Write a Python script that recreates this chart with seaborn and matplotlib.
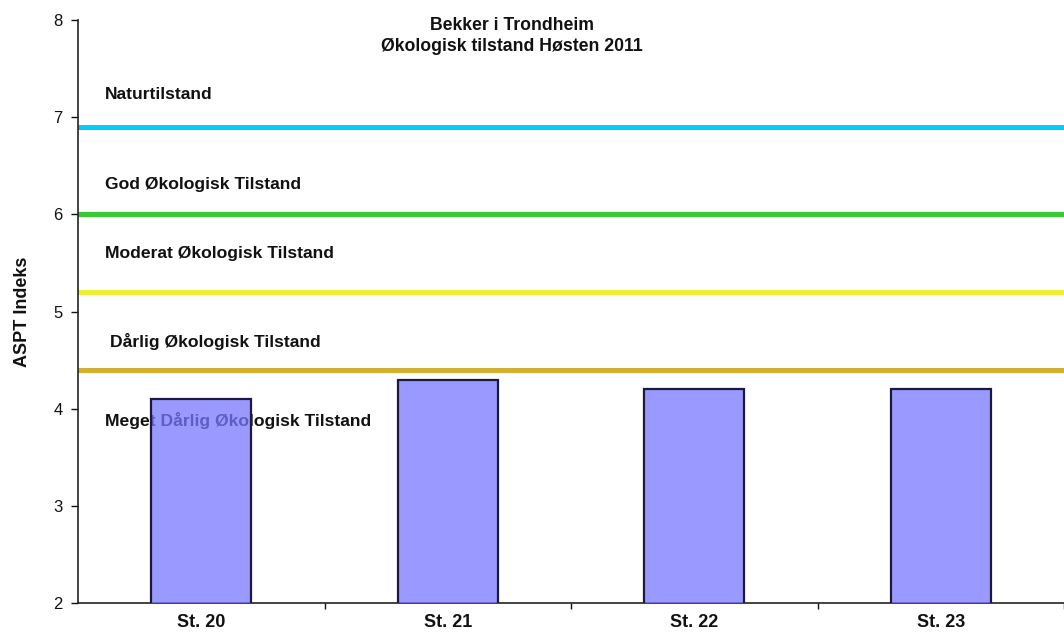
import matplotlib
matplotlib.use("Agg")
import matplotlib.pyplot as plt
import seaborn as sns
import pandas as pd
import numpy as np

stations = ["St. 20", "St. 21", "St. 22", "St. 23"]
aspt = [4.1, 4.3, 4.2, 4.2]

class_limits = [6.9, 6.0, 5.2, 4.4]
limit_colors = ["#00CCFF", "#33CC33", "#EEEE33", "#D4B030"]

class_labels = ["Naturtilstand", "God Økologisk Tilstand", "Moderat Økologisk Tilstand",
                "Dårlig Økologisk Tilstand", "Meget Dårlig Økologisk Tilstand"]
class_label_y = [7.23, 6.31, 5.60, 4.69, 3.88]
class_label_x = [-0.39, -0.39, -0.39, -0.37, -0.39]

title = "Bekker i Trondheim\nØkologisk tilstand Høsten 2011"
ylabel = "ASPT Indeks"
yticks = [2, 3, 4, 5, 6, 7, 8]

sns.set_style("white")
plt.rcParams['font.family'] = ['Liberation Sans', 'DejaVu Sans']
plt.rcParams['text.color'] = '#111111'
plt.rcParams['axes.labelcolor'] = '#111111'
plt.rcParams['xtick.color'] = '#111111'
plt.rcParams['ytick.color'] = '#111111'

fig = plt.figure(figsize=(10.64, 6.34), dpi=100)
ax = fig.add_axes([78/1064, 1-603/634, 1-78/1064, (603-20)/634])

df = pd.DataFrame({"station": stations, "aspt": aspt})
sns.barplot(data=df, x="station", y="aspt", ax=ax, color="#7777FF", width=0.405,
            edgecolor="#1A1A40", linewidth=1.6, saturation=1, zorder=3)
for p in ax.patches:
    p.set_facecolor((0x77/255, 0x77/255, 1.0, 0.75))
    p.set_edgecolor("#1A1A40")

for y, c in zip(class_limits, limit_colors):
    ax.axhline(y, color=c, linewidth=3.6, zorder=2)

for x, y, t in zip(class_label_x, class_label_y, class_labels):
    ax.text(x, y, t, fontsize=12.6, fontweight="bold", color="#111111",
            ha="left", va="center", zorder=1)

ax.set_ylim(2, 8)
ax.set_xlim(-0.5, len(stations) - 0.5)
ax.set_yticks(yticks)
ax.set_xlabel("")
ax.set_ylabel(ylabel, fontsize=13, fontweight="bold", labelpad=16)
ax.tick_params(axis="y", labelsize=12, length=5, width=1, direction="out", left=True, pad=6)
ax.tick_params(axis="x", labelsize=13, length=0, pad=8)
for lab in ax.get_xticklabels():
    lab.set_fontweight("bold")
ax.set_xticks(np.arange(len(stations)) + 0.5, minor=True)
ax.tick_params(axis="x", which="minor", length=4, width=1, direction="out", bottom=True)

for s in ["top", "right"]:
    ax.spines[s].set_visible(False)
ax.spines["left"].set_color("#222222")
ax.spines["bottom"].set_color("#222222")
ax.spines["left"].set_linewidth(1.2)
ax.spines["bottom"].set_linewidth(1.2)

fig.text(0.481, 1-36/634, title, ha="center", va="center", fontsize=12.7,
         fontweight="bold", linespacing=1.25)

fig.savefig("out.png", dpi=100)
